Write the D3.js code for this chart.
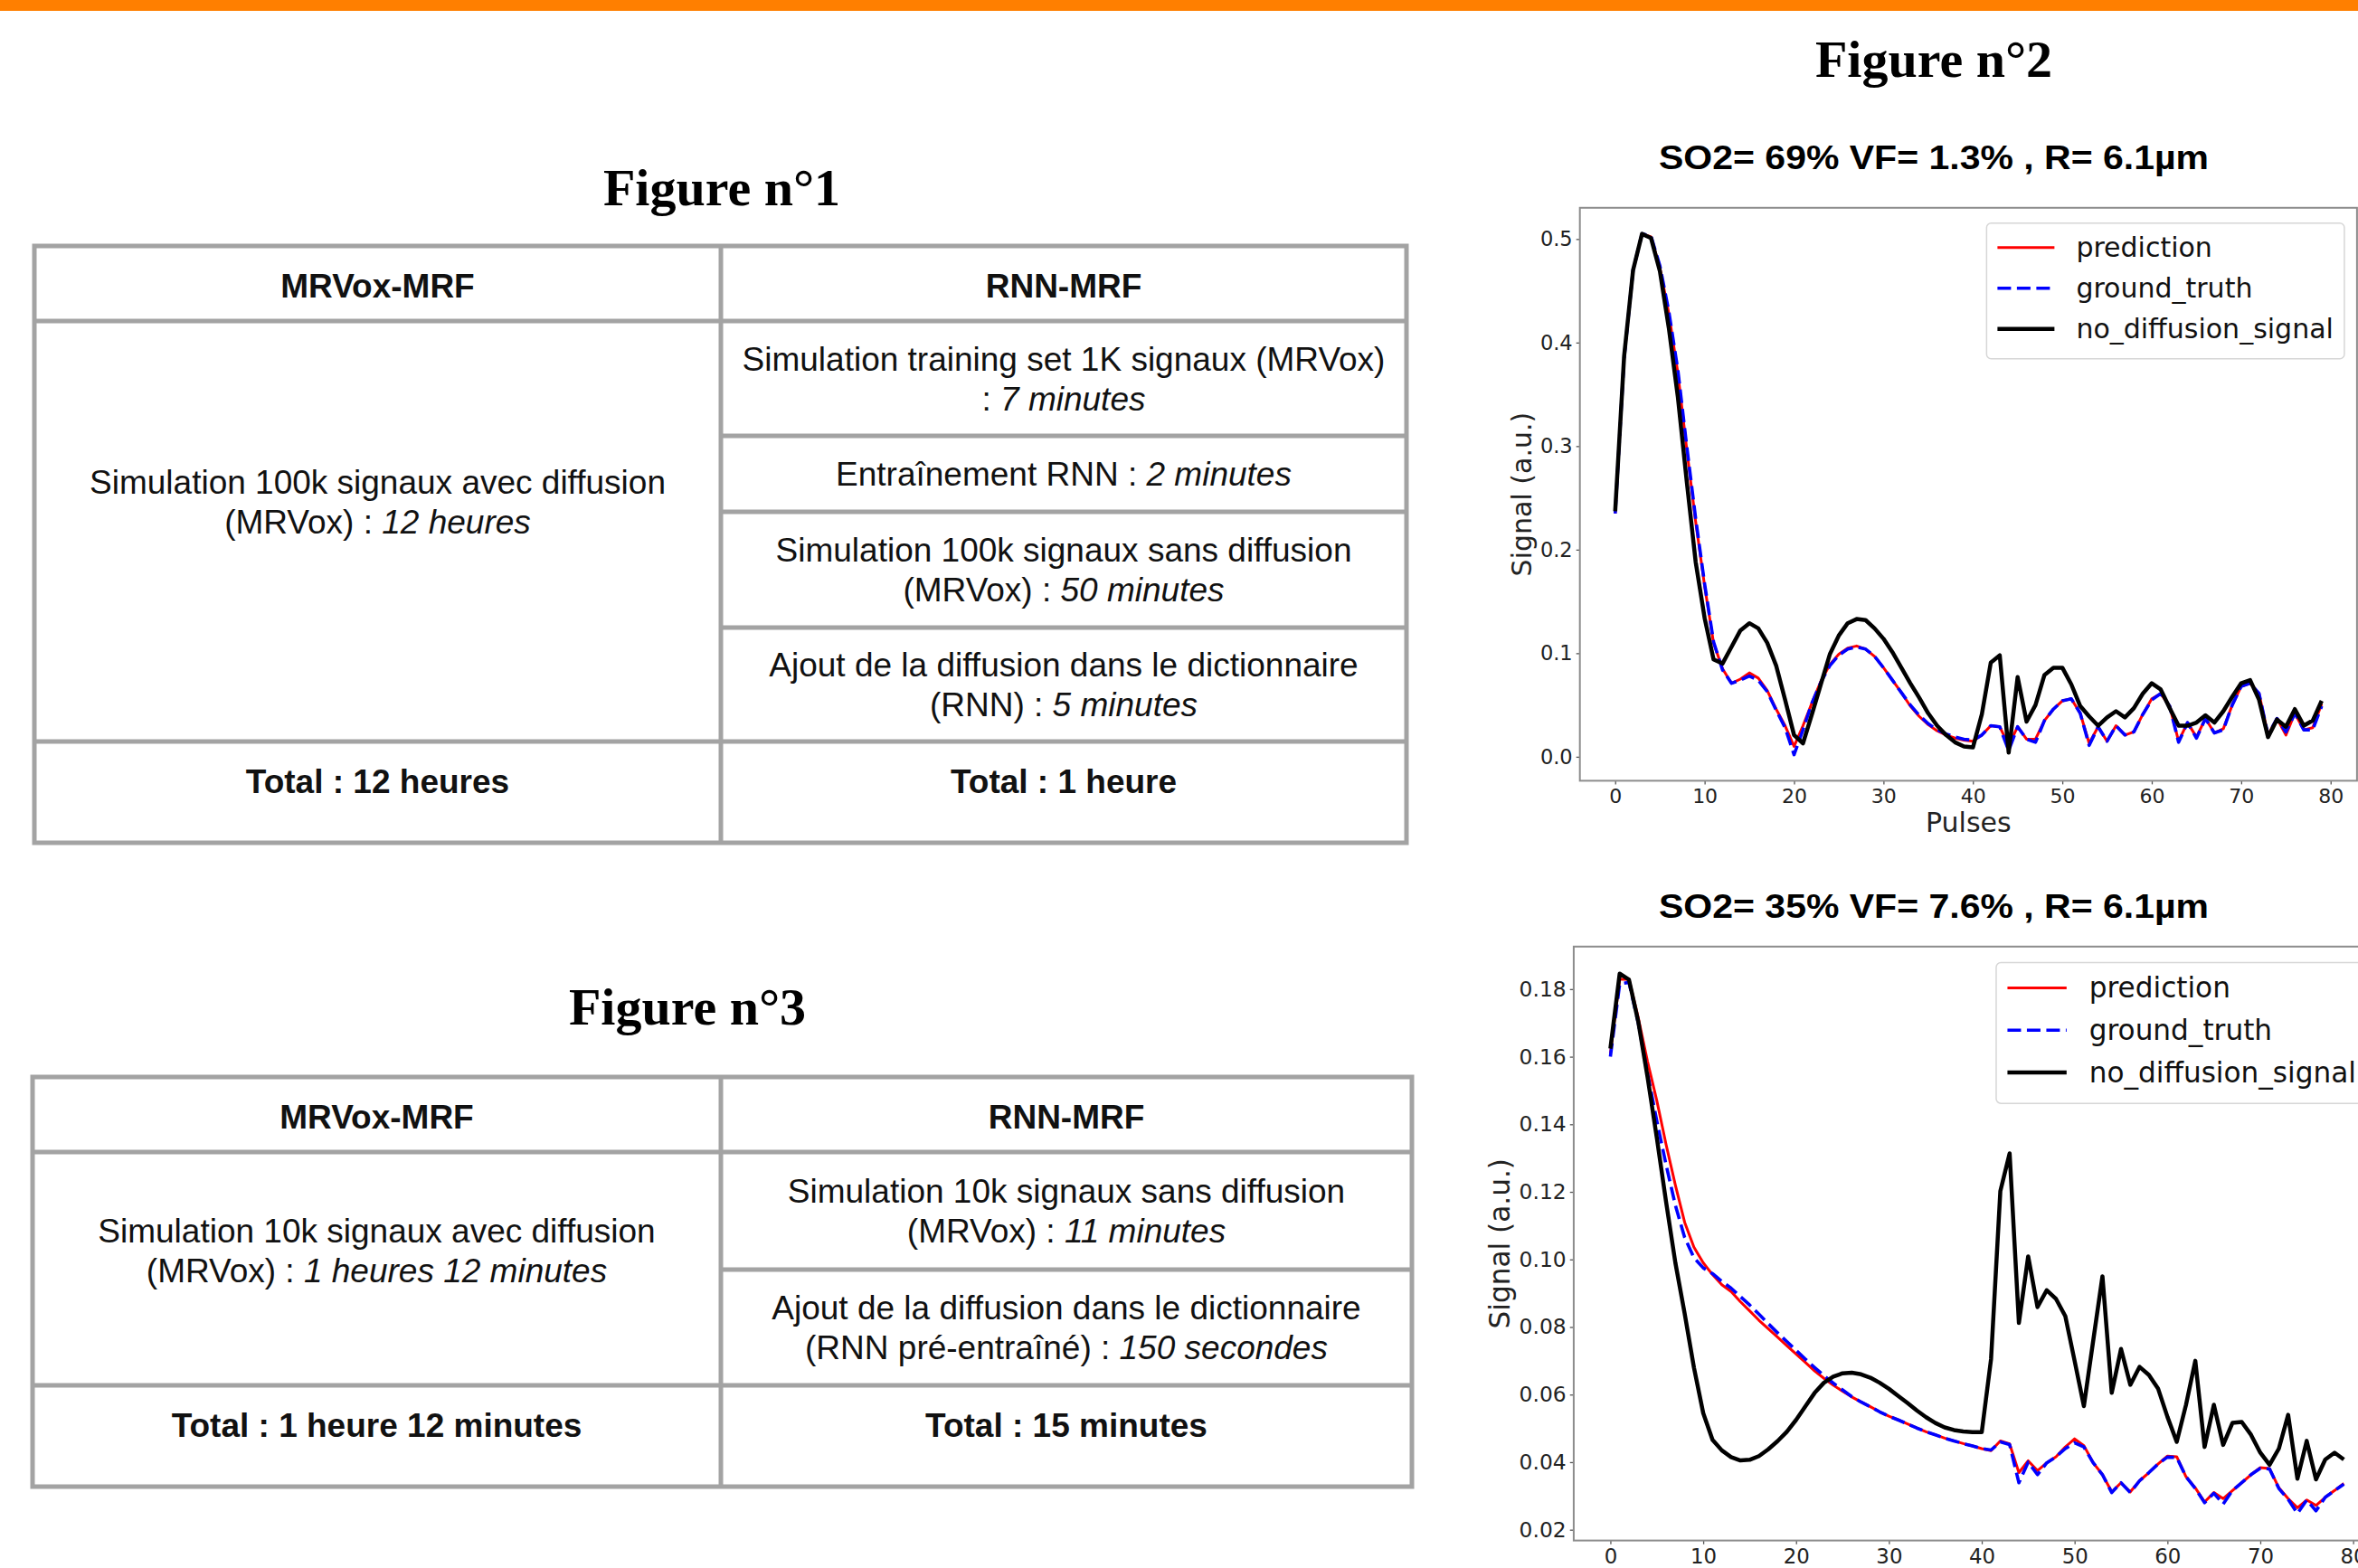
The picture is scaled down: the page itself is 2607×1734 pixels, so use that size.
<!DOCTYPE html>
<html><head><meta charset="utf-8">
<script src="https://cdn.jsdelivr.net/npm/d3@7/dist/d3.min.js"></script>
<style>
html,body{margin:0;padding:0;background:#fff;overflow:hidden;}
svg{display:block}
</style></head><body>
<svg id="c" width="2607" height="1734"></svg>
<script>
// ---------------- DATA ----------------
const pulses = d3.range(80);

const figureTitles = ["Figure n°1", "Figure n°2", "Figure n°3"];
const chartTitles = ["SO2= 69% VF= 1.3% , R= 6.1µm", "SO2= 35% VF= 7.6% , R= 6.1µm"];
const seriesNames = ["prediction", "ground_truth", "no_diffusion_signal"];
const xTickValues = [0, 10, 20, 30, 40, 50, 60, 70, 80];
const yTicks1 = [0.0, 0.1, 0.2, 0.3, 0.4, 0.5];
const yTicks2 = [0.02, 0.04, 0.06, 0.08, 0.10, 0.12, 0.14, 0.16, 0.18];
const xLabel = "Pulses";
const yLabel = "Signal (a.u.)";

// Chart 1 : SO2= 69%
const pred1 = [0.235,0.385,0.47,0.505,0.502,0.472,0.428,0.371,0.297,0.227,
  0.165,0.110,0.085,0.071,0.075,0.081,0.076,0.064,0.046,0.030,
  0.010,0.030,0.052,0.073,0.089,0.099,0.105,0.107,0.104,0.097,
  0.086,0.074,0.062,0.049,0.039,0.031,0.025,0.021,0.018,0.016,
  0.015,0.021,0.030,0.029,0.011,0.029,0.017,0.017,0.035,0.046,
  0.054,0.056,0.042,0.013,0.029,0.015,0.030,0.021,0.024,0.041,
  0.056,0.061,0.049,0.015,0.033,0.019,0.037,0.023,0.027,0.050,
  0.068,0.071,0.061,0.021,0.037,0.021,0.042,0.026,0.028,0.051];
const truth1 = [0.235,0.385,0.47,0.505,0.503,0.474,0.430,0.374,0.300,0.230,
  0.167,0.111,0.084,0.071,0.074,0.078,0.074,0.063,0.045,0.028,
  0.002,0.026,0.052,0.072,0.088,0.098,0.104,0.106,0.104,0.097,
  0.086,0.074,0.062,0.050,0.040,0.032,0.026,0.022,0.019,0.017,
  0.016,0.021,0.030,0.029,0.006,0.029,0.017,0.014,0.035,0.046,
  0.054,0.056,0.042,0.011,0.029,0.015,0.030,0.021,0.024,0.041,
  0.055,0.061,0.049,0.014,0.033,0.018,0.037,0.023,0.026,0.050,
  0.068,0.071,0.061,0.021,0.037,0.024,0.042,0.026,0.026,0.049];
const nodiff1 = [0.237,0.387,0.47,0.505,0.501,0.469,0.414,0.348,0.266,0.188,
  0.134,0.094,0.090,0.106,0.122,0.129,0.124,0.110,0.088,0.055,
  0.021,0.013,0.041,0.070,0.099,0.117,0.129,0.133,0.132,0.124,
  0.114,0.101,0.086,0.071,0.057,0.042,0.030,0.021,0.014,0.010,
  0.009,0.041,0.091,0.098,0.004,0.077,0.034,0.050,0.079,0.086,
  0.086,0.070,0.049,0.039,0.030,0.038,0.044,0.038,0.047,0.061,
  0.071,0.065,0.047,0.030,0.030,0.033,0.040,0.033,0.044,0.058,
  0.071,0.074,0.055,0.019,0.036,0.029,0.046,0.030,0.035,0.054];

// Chart 2 : SO2= 35%
const pred2 = [0.161,0.1829,0.183,0.1716,0.1586,0.147,0.134,0.122,0.111,0.1036,
  0.099,0.0955,0.0925,0.0905,0.0875,0.0848,0.082,0.0795,0.077,0.0745,
  0.072,0.0695,0.067,0.0648,0.0628,0.061,0.0593,0.0578,0.0564,0.0549,
  0.0536,0.0525,0.0513,0.0501,0.0490,0.0481,0.0471,0.0463,0.0455,0.0448,
  0.0440,0.0434,0.0463,0.0454,0.0369,0.0404,0.0375,0.0398,0.0416,0.0445,
  0.0469,0.0449,0.0398,0.0363,0.0312,0.0339,0.0312,0.0345,0.0369,0.0395,
  0.0418,0.0416,0.0357,0.0324,0.0282,0.0310,0.0292,0.0316,0.0339,0.0363,
  0.0384,0.0381,0.0324,0.0292,0.0265,0.0288,0.0272,0.0296,0.0316,0.0337];
const truth2 = [0.160,0.1815,0.182,0.170,0.155,0.141,0.128,0.116,0.1065,0.1005,
  0.0975,0.0958,0.0935,0.0915,0.089,0.0865,0.0838,0.081,0.0783,0.0757,
  0.0731,0.0705,0.068,0.0656,0.0634,0.0614,0.0594,0.0578,0.0564,0.0549,
  0.0536,0.0525,0.0513,0.0501,0.0490,0.0481,0.0471,0.0463,0.0455,0.0448,
  0.0440,0.0436,0.0460,0.0452,0.0339,0.0400,0.0363,0.0398,0.0416,0.0440,
  0.0457,0.0445,0.0398,0.0363,0.0310,0.0339,0.0310,0.0345,0.0369,0.0395,
  0.0415,0.0414,0.0357,0.0322,0.0280,0.0308,0.0276,0.0316,0.0339,0.0363,
  0.0382,0.0380,0.0322,0.0290,0.0248,0.0288,0.0256,0.0296,0.0316,0.0335];
const nodiff2 = [0.1624,0.1846,0.1828,0.1704,0.154,0.136,0.117,0.099,0.084,0.068,
  0.0545,0.0466,0.0435,0.0415,0.0405,0.0407,0.0418,0.0438,0.0462,0.049,
  0.0525,0.0565,0.0605,0.0635,0.0653,0.0663,0.0665,0.0660,0.0650,0.0635,
  0.0617,0.0596,0.0575,0.0553,0.0533,0.0516,0.0503,0.0495,0.0491,0.0489,
  0.0489,0.0705,0.1202,0.1314,0.0812,0.1009,0.0859,0.0909,0.0883,0.0832,
  0.0700,0.0566,0.0759,0.0950,0.0605,0.0735,0.0629,0.0682,0.0658,0.0617,
  0.0534,0.0460,0.0570,0.0700,0.0445,0.0570,0.0451,0.0516,0.0519,0.0481,
  0.0428,0.0392,0.0440,0.0540,0.0351,0.0463,0.0349,0.0408,0.0428,0.0408];

// Tables (each line: [plain part, italic part])
const tableHeaders = ["MRVox-MRF", "RNN-MRF"];
const t1Left = [["Simulation 100k signaux avec diffusion", ""], ["(MRVox) : ", "12 heures"]];
const t1Right = [
  [["Simulation training set 1K signaux (MRVox)", ""], [": ", "7 minutes"]],
  [["Entraînement RNN : ", "2 minutes"]],
  [["Simulation 100k signaux sans diffusion", ""], ["(MRVox) : ", "50 minutes"]],
  [["Ajout de la diffusion dans le dictionnaire", ""], ["(RNN) : ", "5 minutes"]]
];
const t1Totals = ["Total : 12 heures", "Total : 1 heure"];
const t3Left = [["Simulation 10k signaux avec diffusion", ""], ["(MRVox) : ", "1 heures 12 minutes"]];
const t3Right = [
  [["Simulation 10k signaux sans diffusion", ""], ["(MRVox) : ", "11 minutes"]],
  [["Ajout de la diffusion dans le dictionnaire", ""], ["(RNN pré-entraîné) : ", "150 secondes"]]
];
const t3Totals = ["Total : 1 heure 12 minutes", "Total : 15 minutes"];

// ---------------- STYLE / LAYOUT ----------------
const SANS = "'Liberation Sans', Arial, Helvetica, sans-serif";
const MPL = "'DejaVu Sans', sans-serif";
const SERIF = "'Liberation Serif', 'Times New Roman', serif";
const seriesStyle = [
  {color: "#ff0000", width: 3, dash: null},
  {color: "#0000ff", width: 3.6, dash: "15,6.5"},
  {color: "#000000", width: 4.5, dash: null}
];

const svg = d3.select("#c");
svg.append("rect").attr("x", 0).attr("y", 0).attr("width", 2607).attr("height", 12).attr("fill", "#ff7f00");

function figTitle(text, x, y) {
  svg.append("text").attr("x", x).attr("y", y).attr("text-anchor", "middle")
    .attr("font-family", SERIF).attr("font-weight", "bold").attr("font-size", 58)
    .attr("fill", "#000").text(text);
}
figTitle(figureTitles[0], 798, 227);
figTitle(figureTitles[1], 2138, 85);
figTitle(figureTitles[2], 760, 1133);

// ---------------- TABLES ----------------
function drawTable(L, headers, left, right, totals) {
  const g = svg.append("g");
  const fs = 37, lh = 44, cap = 0.716 * fs;
  const [x0, x1, x2] = L.cols;
  const R = L.rows, n = R.length;
  const stroke = "#a3a3a3", sw = 5;
  const line = (ax, ay, bx, by) => g.append("line").attr("x1", ax).attr("y1", ay).attr("x2", bx).attr("y2", by)
    .attr("stroke", stroke).attr("stroke-width", sw);
  g.append("rect").attr("x", x0).attr("y", R[0]).attr("width", x2 - x0).attr("height", R[n - 1] - R[0])
    .attr("fill", "none").attr("stroke", stroke).attr("stroke-width", sw);
  line(x1, R[0], x1, R[n - 1]);
  line(x0, R[1], x2, R[1]);
  line(x0, R[n - 2], x2, R[n - 2]);
  for (let i = 2; i < n - 2; i++) line(x1, R[i], x2, R[i]);

  function cell(cx, cy, lines, bold, shift) {
    const b0 = cy - (lines.length - 1) * lh / 2 + cap / 2 + (shift || 0);
    lines.forEach((ln, i) => {
      const t = g.append("text").attr("x", cx).attr("y", b0 + i * lh).attr("text-anchor", "middle")
        .attr("font-family", SANS).attr("font-size", fs).attr("fill", "#111")
        .attr("font-weight", bold ? "bold" : "normal");
      if (typeof ln === "string") { t.text(ln); return; }
      t.append("tspan").text(ln[0]);
      if (ln[1]) t.append("tspan").attr("font-style", "italic").text(ln[1]);
    });
  }
  const cL = (x0 + x1) / 2, cR = (x1 + x2) / 2;
  cell(cL, (R[0] + R[1]) / 2, [headers[0]], true, 2);
  cell(cR, (R[0] + R[1]) / 2, [headers[1]], true, 2);
  cell(cL, (R[1] + R[n - 2]) / 2, left, false, L.leftShift);
  right.forEach((lines, i) => cell(cR, (R[1 + i] + R[2 + i]) / 2, lines, false, 0));
  cell(cL, (R[n - 2] + R[n - 1]) / 2, [totals[0]], true, -12);
  cell(cR, (R[n - 2] + R[n - 1]) / 2, [totals[1]], true, -12);
}
drawTable({cols: [38, 797, 1555], rows: [272, 355, 482, 566, 694, 820, 932], leftShift: -33},
  tableHeaders, t1Left, t1Right, t1Totals);
drawTable({cols: [36, 797, 1561], rows: [1191, 1274, 1404, 1532, 1644], leftShift: -20},
  tableHeaders, t3Left, t3Right, t3Totals);

// ---------------- CHARTS ----------------
function drawChart(cfg) {
  const s = cfg.s;
  const g = svg.append("g");
  const all = cfg.series.flat();
  const mn = d3.min(all), mx = d3.max(all), pad = (mx - mn) * 0.05;
  const xn = pulses.length - 1;
  const x = d3.scaleLinear().domain([-0.05 * xn, xn * 1.05]).range([cfg.left, cfg.left + cfg.width]);
  const y = d3.scaleLinear().domain([mn - pad, mx + pad]).range([cfg.top + cfg.height, cfg.top]);

  // title
  g.append("text").attr("x", cfg.titleX).attr("y", cfg.titleY).attr("text-anchor", "middle")
    .attr("font-family", SANS).attr("font-weight", "bold").attr("font-size", 37)
    .attr("textLength", 608).attr("lengthAdjust", "spacingAndGlyphs")
    .attr("fill", "#000").text(cfg.title);

  const clipId = "clip" + cfg.id;
  g.append("clipPath").attr("id", clipId).append("rect")
    .attr("x", cfg.left).attr("y", cfg.top).attr("width", cfg.width).attr("height", cfg.height);

  // axes
  const xa = g.append("g").attr("transform", `translate(0,${cfg.top + cfg.height})`)
    .call(d3.axisBottom(x).tickValues(xTickValues).tickFormat(d3.format("d")).tickSize(4 * s).tickPadding(4.5 * s));
  const ya = g.append("g").attr("transform", `translate(${cfg.left},0)`)
    .call(d3.axisLeft(y).tickValues(cfg.yTicks).tickFormat(d3.format(cfg.yFmt)).tickSize(4 * s).tickPadding(4 * s));
  [[xa, 22 * s], [ya, 22.5 * s]].forEach(([a, tfs]) => {
    a.select(".domain").remove();
    a.selectAll(".tick line").attr("stroke", "#555").attr("stroke-width", 1.3);
    a.selectAll(".tick text").attr("font-family", MPL).attr("font-size", tfs).attr("fill", "#222");
  });

  // lines
  const lineGen = d3.line().x((d, i) => x(pulses[i])).y(d => y(d));
  const lg = g.append("g").attr("clip-path", `url(#${clipId})`);
  cfg.series.forEach((data, k) => {
    const st = seriesStyle[k];
    lg.append("path").datum(data).attr("d", lineGen).attr("fill", "none")
      .attr("stroke", st.color).attr("stroke-width", st.width)
      .attr("stroke-dasharray", st.dash).attr("stroke-linejoin", "round");
  });

  // spines
  g.append("rect").attr("x", cfg.left).attr("y", cfg.top).attr("width", cfg.width).attr("height", cfg.height)
    .attr("fill", "none").attr("stroke", "#8c8c8c").attr("stroke-width", 2);

  // y label
  const yb = ya.node().getBBox();
  const lx = cfg.left + yb.x - 10 * s, ly = cfg.top + cfg.height / 2;
  g.append("text").attr("x", lx).attr("y", ly).attr("transform", `rotate(-90,${lx},${ly})`)
    .attr("text-anchor", "middle").attr("font-family", MPL).attr("font-size", 30 * s).attr("fill", "#222")
    .text(yLabel);
  if (cfg.showXLabel) {
    g.append("text").attr("x", cfg.left + cfg.width / 2).attr("y", cfg.top + cfg.height + 57 * s)
      .attr("text-anchor", "middle").attr("font-family", MPL).attr("font-size", 30 * s).attr("fill", "#222")
      .text(xLabel);
  }

  // legend
  const lfs = 30 * s;
  const leg = g.append("g");
  const right = cfg.left + cfg.width - 14 * s, top = cfg.top + 17 * s;
  const box = leg.append("rect").attr("rx", 5 * s).attr("ry", 5 * s)
    .attr("fill", "#fff").attr("fill-opacity", 0.85).attr("stroke", "#d6d6d6").attr("stroke-width", 1.5);
  const texts = seriesNames.map((nm, k) => leg.append("text").attr("font-family", MPL).attr("font-size", lfs)
    .attr("fill", "#111").attr("dy", "0.35em").text(nm));
  const tw = d3.max(texts, t => t.node().getComputedTextLength());
  const bpad = 0.4 * lfs, hl = 2.1 * lfs, htp = 0.8 * lfs;
  const bw = bpad + hl + htp + tw + bpad;
  const left = right - bw;
  box.attr("x", left).attr("y", top).attr("width", bw).attr("height", 5.0 * lfs);
  seriesNames.forEach((nm, k) => {
    const cy = top + 0.9 * lfs + k * 1.5 * lfs;
    const st = seriesStyle[k];
    leg.append("line").attr("x1", left + bpad).attr("x2", left + bpad + hl).attr("y1", cy).attr("y2", cy)
      .attr("stroke", st.color).attr("stroke-width", st.width).attr("stroke-dasharray", st.dash);
    texts[k].attr("x", left + bpad + hl + htp).attr("y", cy);
  });
}

drawChart({id: 1, s: 1, left: 1746.7, top: 229.8, width: 859.2, height: 633.6,
  series: [pred1, truth1, nodiff1], yTicks: yTicks1, yFmt: ".1f",
  title: chartTitles[0], titleX: 2138, titleY: 187, showXLabel: true});
drawChart({id: 2, s: 1.038, left: 1739.9, top: 1046.8, width: 892, height: 656.8,
  series: [pred2, truth2, nodiff2], yTicks: yTicks2, yFmt: ".2f",
  title: chartTitles[1], titleX: 2138, titleY: 1015, showXLabel: false});
</script>
</body></html>
